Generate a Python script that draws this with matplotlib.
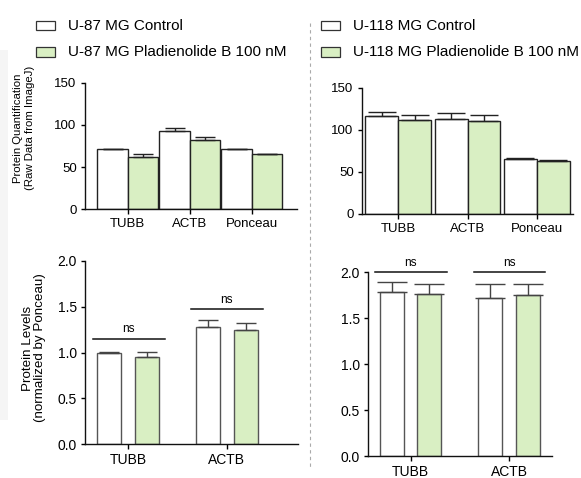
import numpy as np
import matplotlib
matplotlib.use('Agg')
import matplotlib.pyplot as plt
from matplotlib.patches import Rectangle
from matplotlib.lines import Line2D

plt.rcParams['font.family'] = ['Liberation Sans', 'DejaVu Sans']

# ==========================================
# Dados
# ==========================================
raw_genes = ['TUBB', 'ACTB', 'Ponceau']
norm_genes = ['TUBB', 'ACTB']

u87_raw_ctrl = [71.4, 92.5, 71.4]
u87_raw_ctrl_err = [0.6, 4.3, 0.6]
u87_raw_plb = [62.3, 81.7, 65.0]
u87_raw_plb_err = [3.6, 3.6, 0.9]

u118_raw_ctrl = [116.5, 112.9, 65.9]
u118_raw_ctrl_err = [5.5, 7.9, 1.1]
u118_raw_plb = [111.7, 110.9, 63.5]
u118_raw_plb_err = [5.9, 6.4, 0.8]

u87_norm_ctrl = [0.993, 1.28]
u87_norm_ctrl_err = [0.012, 0.07]
u87_norm_plb = [0.953, 1.247]
u87_norm_plb_err = [0.054, 0.07]

u118_norm_ctrl = [1.78, 1.717]
u118_norm_ctrl_err = [0.107, 0.152]
u118_norm_plb = [1.764, 1.753]
u118_norm_plb_err = [0.109, 0.116]

u87_ns_y = [1.149, 1.47]
u118_ns_y = [2.0, 2.0]

legend_left = ['U-87 MG Control', 'U-87 MG Pladienolide B 100 nM']
legend_right = ['U-118 MG Control', 'U-118 MG Pladienolide B 100 nM']

GREEN = '#d9efc3'
W, H = 581, 478

fig = plt.figure(figsize=(W / 100, H / 100), dpi=100)


def px_rect(l, t, r, b):
    """Converte caixa em pixels (esq, topo, dir, base) para fração da figura."""
    return [l / W, 1 - b / H, (r - l) / W, (b - t) / H]


def style_axis(ax, tick_fs):
    for s in ['top', 'right']:
        ax.spines[s].set_visible(False)
    for s in ['left', 'bottom']:
        ax.spines[s].set_linewidth(1.0)
        ax.spines[s].set_color('#111111')
    ax.tick_params(axis='y', length=3, width=1.0, pad=3, labelsize=tick_fs)
    ax.tick_params(axis='x', length=3.8, width=1.0, pad=3, labelsize=tick_fs)


def raw_panel(rect, ctrl, ctrl_err, plb, plb_err, width, xlim, capsize):
    ax = fig.add_axes(px_rect(*rect))
    x = np.arange(len(raw_genes))
    ax.bar(x - width / 2, ctrl, width, color='white', edgecolor='#222222',
           linewidth=1.0, zorder=2)
    ax.bar(x + width / 2, plb, width, color=GREEN, edgecolor='#222222',
           linewidth=1.0, zorder=2)
    ax.errorbar(x - width / 2, ctrl, yerr=[np.zeros(len(x)), ctrl_err],
                fmt='none', ecolor='#222222', elinewidth=1.0, capsize=capsize,
                capthick=1.0, zorder=3)
    ax.errorbar(x + width / 2, plb, yerr=[np.zeros(len(x)), plb_err],
                fmt='none', ecolor='#222222', elinewidth=1.0, capsize=capsize,
                capthick=1.0, zorder=3)
    ax.set_ylim(0, 150)
    ax.set_yticks([0, 50, 100, 150])
    ax.set_xlim(*xlim)
    ax.set_xticks(x)
    ax.set_xticklabels(raw_genes)
    style_axis(ax, 9.5)
    return ax


def norm_panel(rect, ctrl, ctrl_err, plb, plb_err, ns_y, xlim, capsize):
    ax = fig.add_axes(px_rect(*rect))
    x = np.arange(len(norm_genes))
    width, off = 0.244, 0.19
    ax.bar(x - off, ctrl, width, color='white', edgecolor='#555555',
           linewidth=1.0, zorder=2)
    ax.bar(x + off, plb, width, color=GREEN, edgecolor='#555555',
           linewidth=1.0, zorder=2)
    ax.errorbar(x - off, ctrl, yerr=[np.zeros(len(x)), ctrl_err],
                fmt='none', ecolor='#444444', elinewidth=1.0, capsize=capsize,
                capthick=1.0, zorder=3)
    ax.errorbar(x + off, plb, yerr=[np.zeros(len(x)), plb_err],
                fmt='none', ecolor='#444444', elinewidth=1.0, capsize=capsize,
                capthick=1.0, zorder=3)
    for xi, yi in zip(x, ns_y):
        ax.plot([xi - 0.36, xi + 0.37], [yi, yi], color='#111111', lw=1.1,
                clip_on=False)
        ax.annotate('ns', (xi, yi), xytext=(0, 2.5), textcoords='offset points',
                    ha='center', va='bottom', fontsize=8.5,
                    annotation_clip=False)
    ax.set_ylim(0, 2.0)
    ax.set_yticks([0, 0.5, 1.0, 1.5, 2.0])
    ax.set_yticklabels(['0.0', '0.5', '1.0', '1.5', '2.0'])
    ax.set_xlim(*xlim)
    ax.set_xticks(x)
    ax.set_xticklabels(norm_genes)
    style_axis(ax, 10)
    return ax


# ==========================================
# Painéis
# ==========================================
raw_panel((85, 83, 297, 209), u87_raw_ctrl, u87_raw_ctrl_err,
          u87_raw_plb, u87_raw_plb_err, 0.49, (-0.69, 2.73), 7)
raw_panel((362, 88, 573, 214), u118_raw_ctrl, u118_raw_ctrl_err,
          u118_raw_plb, u118_raw_plb_err, 0.475, (-0.52, 2.52), 10)
norm_panel((85, 261, 298, 444), u87_norm_ctrl, u87_norm_ctrl_err,
           u87_norm_plb, u87_norm_plb_err, u87_ns_y, (-0.436, 1.72), 7.5)
norm_panel((368, 272, 552, 456), u118_norm_ctrl, u118_norm_ctrl_err,
           u118_norm_plb, u118_norm_plb_err, u118_ns_y, (-0.433, 1.437), 11)

# Rótulos do eixo y
fig.text(24 / W, 1 - 128 / H,
         'Protein Quantification\n(Raw Data from ImageJ)',
         rotation=90, ha='center', va='center', fontsize=8.2, linespacing=1.15)
fig.text(34 / W, 1 - 348 / H,
         'Protein Levels\n(normalized by Ponceau)',
         rotation=90, ha='center', va='center', fontsize=9.6, linespacing=1.05)

# Faixa cinza na borda esquerda
fig.add_artist(Rectangle((0, 1 - 420 / H), 8 / W, 370 / H,
                         transform=fig.transFigure, facecolor='#f5f5f5',
                         edgecolor='none', zorder=0))

# Separador tracejado
fig.add_artist(Line2D([310 / W, 310 / W], [1 - 23 / H, 1 - 467 / H],
                      transform=fig.transFigure, color='#aaaaaa', lw=0.8,
                      ls=(0, (3, 3))))

# Legendas
for labels, box_x, text_x in [(legend_left, 36, 68), (legend_right, 321, 353)]:
    for i, (lab, fc) in enumerate(zip(labels, ['white', GREEN])):
        yc = [25.5, 52][i]
        fig.add_artist(Rectangle((box_x / W, 1 - (yc + 4.5) / H), 19 / W, 9 / H,
                                 transform=fig.transFigure, facecolor=fc,
                                 edgecolor='#333333', lw=0.9))
        fig.text(text_x / W, 1 - yc / H, lab, ha='left', va='center',
                 fontsize=11)

fig.savefig('out.png', dpi=100)
